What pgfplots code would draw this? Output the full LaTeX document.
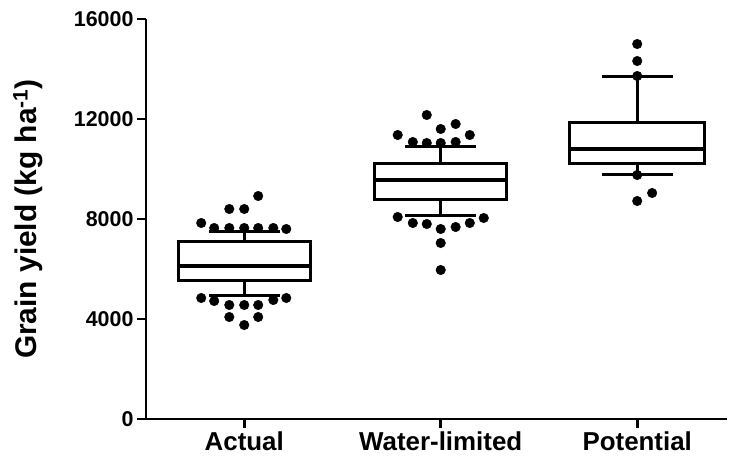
\documentclass[border=0pt]{standalone}
\usepackage{fontspec}
\setmainfont{Liberation Sans}
\usepackage{pgfplots}
\pgfplotsset{compat=1.18}
\begin{document}
\begin{tikzpicture}
\begin{axis}[
  at={(0,0)}, anchor=south west,
  scale only axis, width=581bp, height=400bp,
  xmin=0.5, xmax=3.457, ymin=0, ymax=16000,
  scaled y ticks=false, scaled x ticks=false,
  axis x line*=bottom, axis y line*=left,
  axis line style={line width=2.6bp, black},
  tick align=outside, major tick length=9bp,
  major tick style={line width=2.6bp, black},
  xtick={1,2,3}, xticklabels={Actual,Water-limited,Potential},
  ytick={0,4000,8000,12000,16000}, yticklabels={0,4000,8000,12000,16000},
  x tick label style={font=\fontsize{26}{30}\selectfont\bfseries},
  y tick label style={font=\fontsize{21.5}{25}\selectfont\bfseries},
  ylabel={Grain yield (kg ha\textsuperscript{-1})},
  ylabel style={font=\fontsize{30}{34}\selectfont\bfseries, at={(axis description cs:-0.203,0.5)}, anchor=center},
  box/.style={black, mark=none, line width=3bp, line join=miter, fill=white},
  wh/.style={black, mark=none, line width=3bp},
  med/.style={black, mark=none, line width=4.5bp},
  dots/.style={only marks, mark=*, mark size=4.8bp, black, mark options={fill=black, draw=black}},
]
% Actual: lw 4920, lq 5520, med 6120, uq 7080, uw 7480
\addplot[wh] coordinates {(1,7080) (1,7480)};
\addplot[wh] coordinates {(0.82,7480) (1.18,7480)};
\addplot[wh] coordinates {(1,5520) (1,4920)};
\addplot[wh] coordinates {(0.82,4920) (1.18,4920)};
\addplot[box] coordinates {(1,5520) (1.335,5520) (1.335,7080) (0.665,7080) (0.665,5520) (1,5520)};
\addplot[med] coordinates {(0.665,6120) (1.335,6120)};
% Water-limited: lw 8120, lq 8760, med 9560, uq 10200, uw 10880
\addplot[wh] coordinates {(2,10200) (2,10880)};
\addplot[wh] coordinates {(1.82,10880) (2.18,10880)};
\addplot[wh] coordinates {(2,8760) (2,8120)};
\addplot[wh] coordinates {(1.82,8120) (2.18,8120)};
\addplot[box] coordinates {(2,8760) (2.335,8760) (2.335,10200) (1.665,10200) (1.665,8760) (2,8760)};
\addplot[med] coordinates {(1.665,9560) (2.335,9560)};
% Potential: lw 9760, lq 10200, med 10800, uq 11860, uw 13680
\addplot[wh] coordinates {(3,11860) (3,13680)};
\addplot[wh] coordinates {(2.82,13680) (3.18,13680)};
\addplot[wh] coordinates {(3,10200) (3,9760)};
\addplot[wh] coordinates {(2.82,9760) (3.18,9760)};
\addplot[box] coordinates {(3,10200) (3.345,10200) (3.345,11860) (2.655,11860) (2.655,10200) (3,10200)};
\addplot[med] coordinates {(2.655,10800) (3.345,10800)};
% outliers
\addplot[dots] coordinates {
(1.071,8920) (0.924,8400) (1.0,8400) (0.781,7840) (1.214,7600)
(0.847,7640) (0.924,7640) (1.0,7640) (1.071,7640) (1.148,7640)
(0.781,4840) (1.214,4840) (0.847,4720) (1.148,4760)
(0.924,4560) (1.0,4560) (1.071,4560) (0.924,4080) (1.071,4080) (1.0,3760)
};
\addplot[dots] coordinates {
(1.929,12160) (2.076,11800) (2.0,11600) (1.781,11360) (2.148,11360)
(1.858,11080) (1.929,11040) (2.0,11040) (2.076,11080)
(1.781,8080) (2.219,8040) (1.858,7840) (1.929,7800) (2.0,7600) (2.076,7680) (2.148,7840)
(2.0,7040) (2.0,5960)
};
\addplot[dots] coordinates {
(3.0,15000) (3.0,14320) (3.0,13720) (3.0,9760) (3.076,9040) (3.0,8720)
};
\end{axis}
\pgfresetboundingbox
\path[use as bounding box] (-146bp,-45bp) rectangle (583bp,419bp);
\end{tikzpicture}
\end{document}
